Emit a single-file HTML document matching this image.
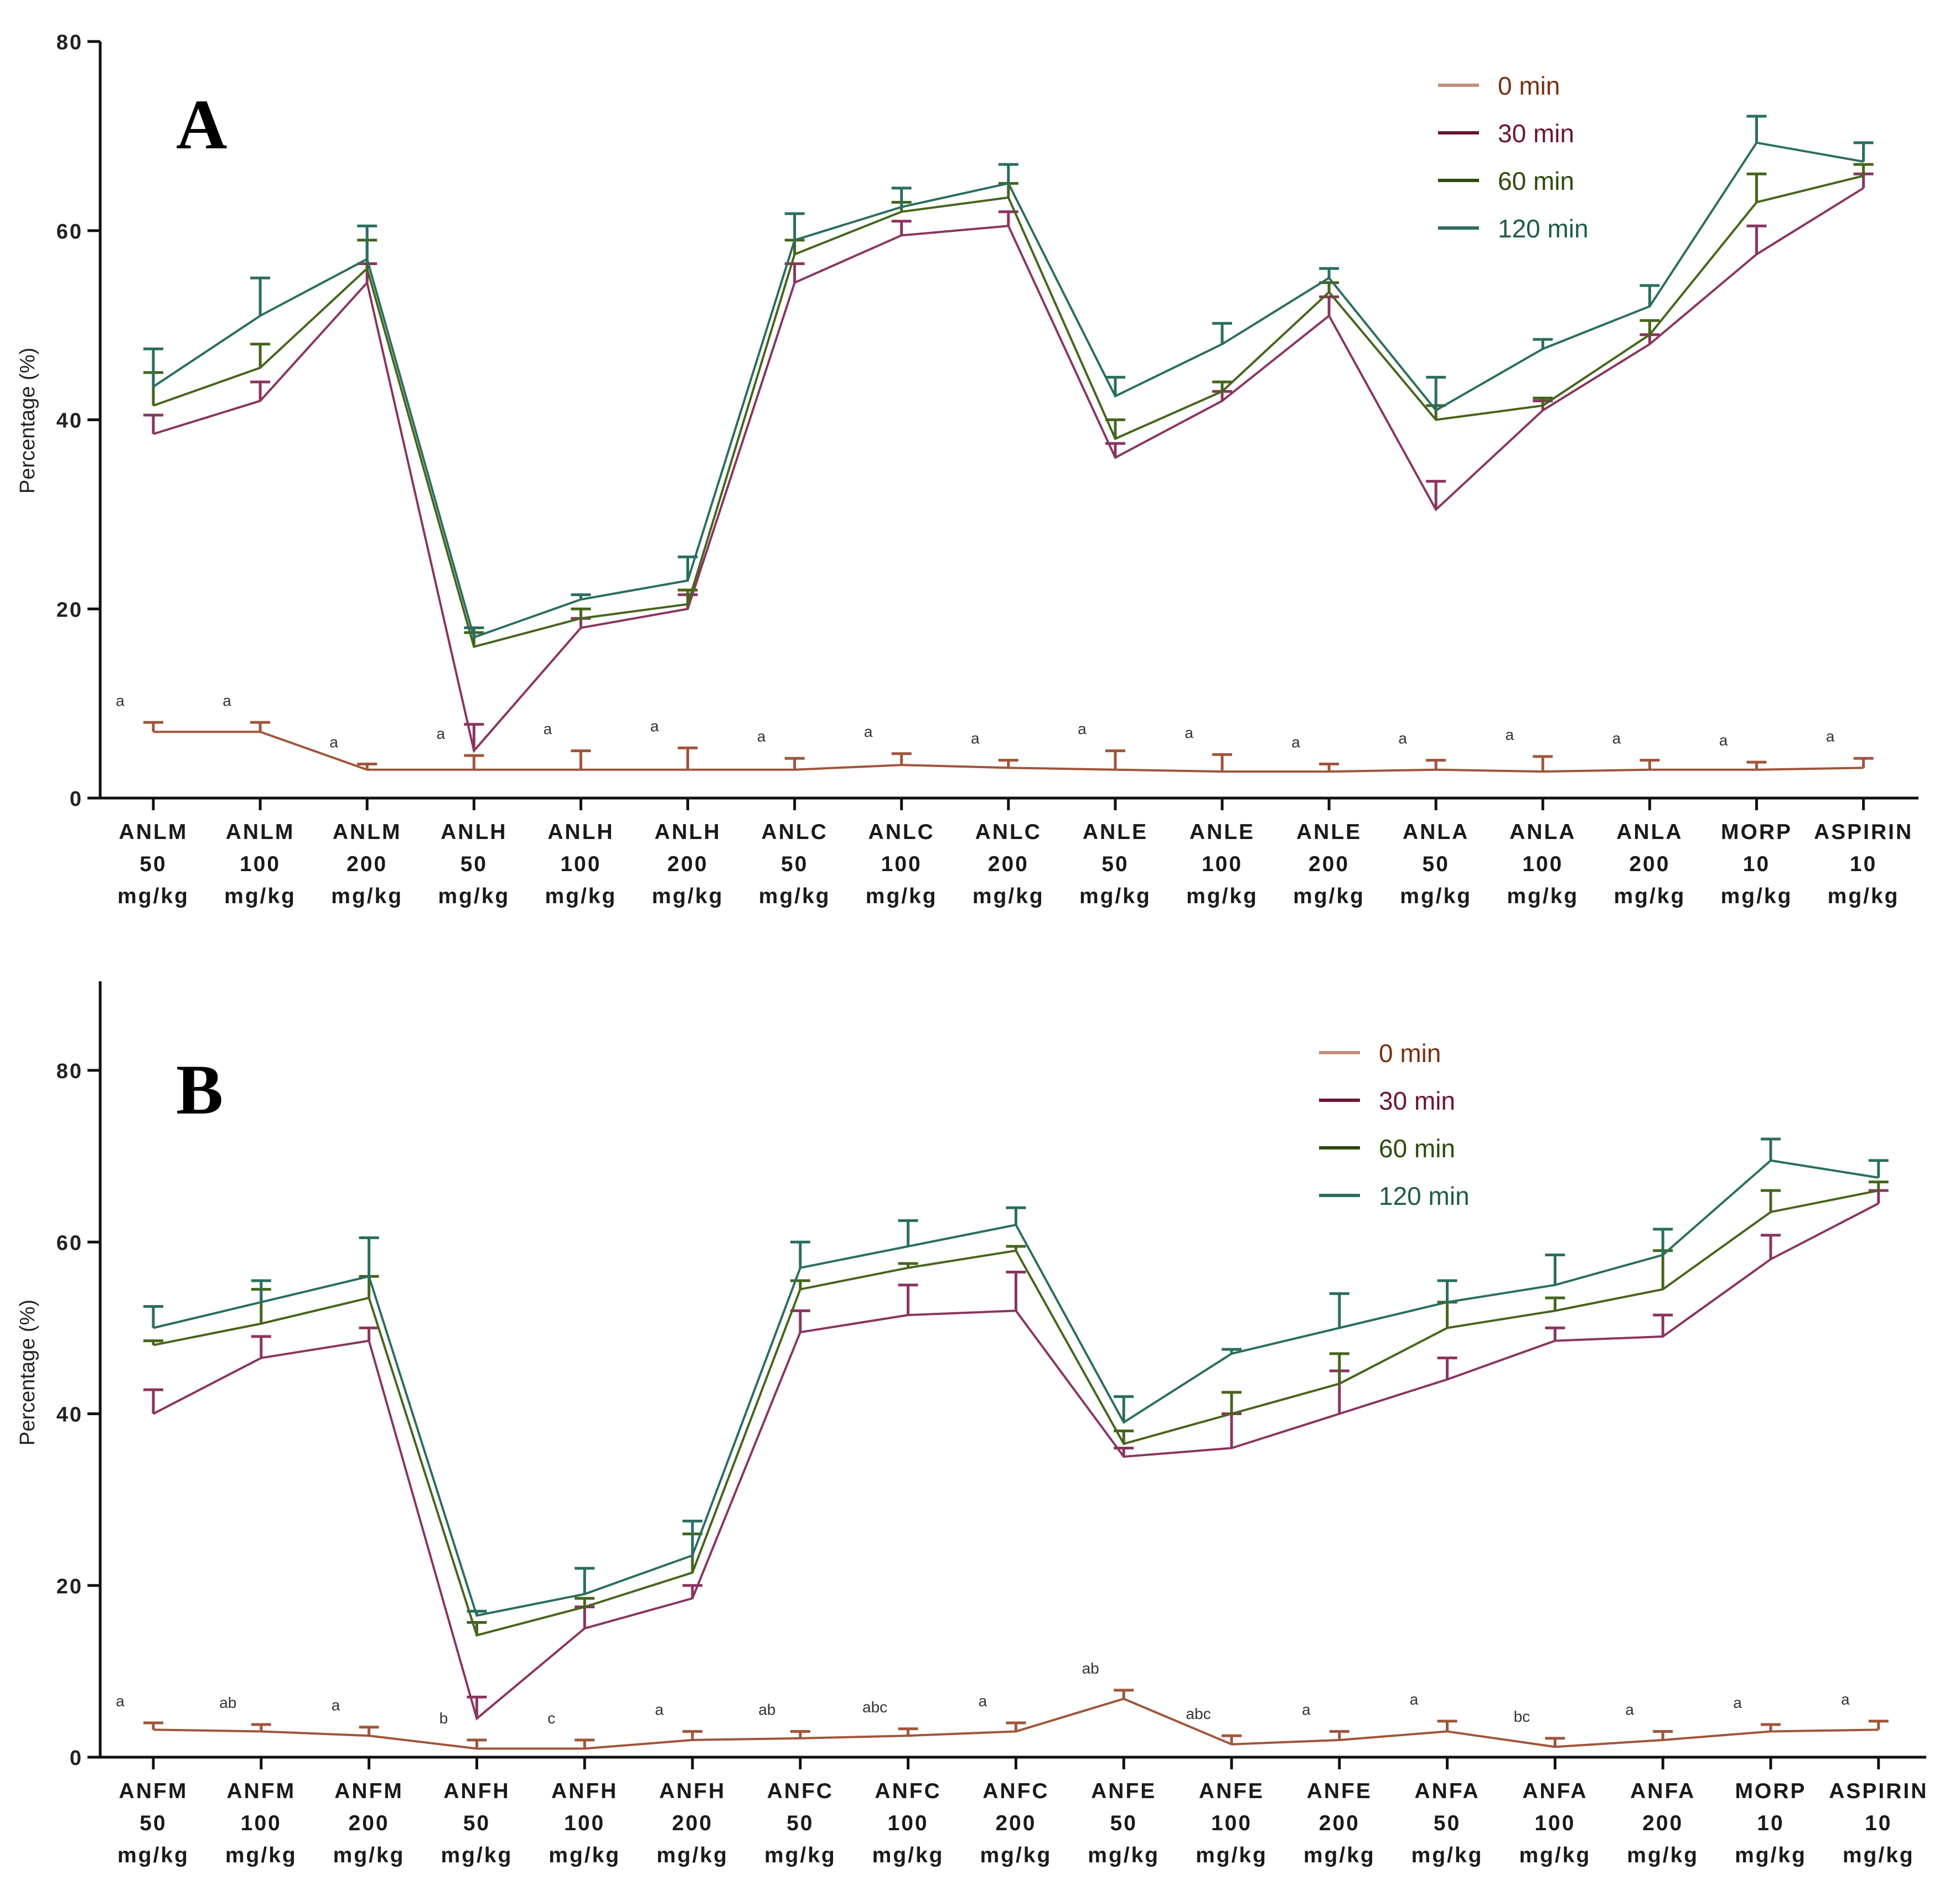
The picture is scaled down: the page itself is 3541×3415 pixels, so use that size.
<!DOCTYPE html>
<html><head><meta charset="utf-8"><style>
body{margin:0;background:#fff;width:3541px;height:3415px;overflow:hidden}
svg{display:block}
</style></head><body>
<svg id="chart" width="3541" height="3415" xmlns="http://www.w3.org/2000/svg" font-family="Liberation Sans, sans-serif"></svg>
<script>
const catsA=["ANLM|50|mg/kg","ANLM|100|mg/kg","ANLM|200|mg/kg","ANLH|50|mg/kg","ANLH|100|mg/kg","ANLH|200|mg/kg","ANLC|50|mg/kg","ANLC|100|mg/kg","ANLC|200|mg/kg","ANLE|50|mg/kg","ANLE|100|mg/kg","ANLE|200|mg/kg","ANLA|50|mg/kg","ANLA|100|mg/kg","ANLA|200|mg/kg","MORP|10|mg/kg","ASPIRIN|10|mg/kg"];
const catsB=["ANFM|50|mg/kg","ANFM|100|mg/kg","ANFM|200|mg/kg","ANFH|50|mg/kg","ANFH|100|mg/kg","ANFH|200|mg/kg","ANFC|50|mg/kg","ANFC|100|mg/kg","ANFC|200|mg/kg","ANFE|50|mg/kg","ANFE|100|mg/kg","ANFE|200|mg/kg","ANFA|50|mg/kg","ANFA|100|mg/kg","ANFA|200|mg/kg","MORP|10|mg/kg","ASPIRIN|10|mg/kg"];
const seriesNames=["0 min","30 min","60 min","120 min"];
const a0=[7,7,3,3,3,3,3,3.5,3.2,3,2.8,2.8,3,2.8,3,3,3.2];
const a30=[38.5,42,54.5,5,18,20,54.5,59.5,60.5,36,42,51,30.5,41,48,57.5,64.5];
const a60=[41.5,45.5,56,16,19,20.5,57.5,62,63.5,38,43,53.5,40,41.5,49,63,65.8];
const a120=[43.5,51,57,17,21,23,59,62.5,65,42.5,48,55,41,47.5,52,69.3,67.3];
const ea0=[1,1,0.6,1.5,2,2.3,1.2,1.2,0.8,2,1.8,0.8,1,1.6,1,0.8,1];
const ea30=[2,2,2,2.8,1,1.5,2,1.5,1.5,1.5,1,2,3,1,1,3,1.5];
const ea60=[3.5,2.5,3,1.5,1,1.5,1.5,1,1.5,2,1,1,1.5,0.8,1.5,3,1.2];
const ea120=[4,4,3.5,1,0.5,2.5,2.8,2,2,2,2.2,1,3.5,1,2.2,2.8,2];
const b0=[3.2,3,2.5,1,1,2,2.2,2.5,3,6.8,1.5,2,3,1.2,2,3,3.2];
const b30=[40,46.5,48.5,4.5,15,18.5,49.5,51.5,52,35,36,40,44,48.5,49,58,64.5];
const b60=[48,50.5,53.5,14.2,17.5,21.5,54.5,57,59,36.5,40,43.5,50,52,54.5,63.5,66];
const b120=[50,53,56,16.5,19,23.5,57,59.5,62,39,47,50,53,55,58.5,69.5,67.5];
const eb0=[0.8,0.8,1,1,1,1,0.8,0.8,1,1,1,1,1.2,1,1,0.8,1];
const eb30=[2.8,2.5,1.5,2.5,2.5,1.5,2.5,3.5,4.5,1,4,5,2.5,1.5,2.5,2.8,1.5];
const eb60=[0.5,4,2.5,1.5,1,4.5,1,0.5,0.5,1.5,2.5,3.5,3,1.5,4.5,2.5,1];
const eb120=[2.5,2.5,4.5,0.5,3,4,3,3,2,3,0.5,4,2.5,3.5,3,2.5,2];
const letA0=["a","a","a","a","a","a","a","a","a","a","a","a","a","a","a","a","a"];
const letB0=["a","ab","a","b","c","a","ab","abc","a","ab","abc","a","a","bc","a","a","a"];
const yTicksA=[0,20,40,60,80];
const yTicksB=[0,20,40,60,80];
const lineColors=["#a0553a","#8a3560","#46651c","#2a6e60"];
const legLine=["#c0907a","#6a1535","#2e4a0a","#2a6e60"];
const legText=["#7a3010","#6a1535","#2e4a0a","#1f5a4a"];
const NS="http://www.w3.org/2000/svg";
const svg=document.getElementById('chart');
function el(t,at,p){const e=document.createElementNS(NS,t);for(const k in at)e.setAttribute(k,at[k]);(p||svg).appendChild(e);return e;}
function panel(cfg){
 const g=el('g',{});
 
 
 const y=v=>cfg.y0-(v/cfg.vmax)*(cfg.y0-cfg.yTop);
 const x=i=>cfg.x0+i*cfg.dx;
 const ax=el('path',{d:`M181 ${cfg.axTop} V${cfg.y0} H${cfg.axEnd}`,stroke:'#111',fill:'none','stroke-width':5},g);
 
 
 cfg.ticks.forEach(t=>{
  el('line',{x1:158,x2:181,y1:y(t),y2:y(t),stroke:'#111','stroke-width':5},g);
  const tx=el('text',{x:150,y:y(t)+14,'text-anchor':'end','font-size':38,'font-weight':'bold',fill:'#222','letter-spacing':3},g);
  tx.textContent=t;
  
  
 });
 cfg.cats.forEach((c,i)=>{
  el('line',{x1:x(i),x2:x(i),y1:cfg.y0,y2:cfg.y0+22,stroke:'#111','stroke-width':5},g);
  const parts=c.split('|');
  parts.forEach((p,k)=>{
   const t=el('text',{x:x(i),y:cfg.y0+74+k*58,'text-anchor':'middle','font-size':39,'font-weight':'bold',fill:'#1a1a1a','letter-spacing':3},g);
   t.textContent=p;
   
   
  });
 });
 const yt=el('text',{transform:`translate(62 ${cfg.titleY}) rotate(-90)`,'text-anchor':'middle','font-size':38,fill:'#222'},g);
 yt.textContent='Percentage (%)';
 
 
 const pl=el('text',{x:cfg.lx,y:cfg.ly,'font-size':128,'font-weight':'bold','font-family':'Liberation Serif, serif',fill:'#000'},g);
 pl.textContent=cfg.letter;
 
 
 cfg.series.forEach((s,si)=>{
  const d=s.map((v,i)=>(i?'L':'M')+x(i)+' '+y(v)).join(' ');
  const p=el('path',{d:d,stroke:lineColors[si],fill:'none','stroke-width':4},g);
  
  
  s.forEach((v,i)=>{
   const top=y(v+cfg.errs[si][i]);
   const eb=el('path',{d:`M${x(i)} ${y(v)} V${top} M${x(i)-18} ${top} H${x(i)+18}`,stroke:lineColors[si],'stroke-width':5,fill:'none'},g);
   
   
  });
 });
 cfg.let0.forEach((l,i)=>{
  const t=el('text',{x:x(i)-60,y:y(cfg.series[0][i]+cfg.errs[0][i])-30,'font-size':28,fill:'#333','text-anchor':'middle'},g);
  t.textContent=l;
  
  
 });
 seriesNames.forEach((n,k)=>{
  const ly=cfg.legY+k*cfg.legDy;
  const lg=el('g',{},g);
  
  
  el('line',{x1:cfg.legX,x2:cfg.legX+74,y1:ly,y2:ly,stroke:legLine[k],'stroke-width':6},lg);
  const t=el('text',{x:cfg.legX+108,y:ly+17,'font-size':46,fill:legText[k]},lg);
  t.textContent=n;
 });
}
panel({name:'panel-a',letter:'A',lx:318,ly:268,cats:catsA,x0:277,dx:193.1,y0:1442,yTop:75,axTop:75,vmax:80,axEnd:3466,ticks:yTicksA,titleY:760,
 series:[a0,a30,a60,a120],errs:[ea0,ea30,ea60,ea120],let0:letA0,legX:2598,legY:154,legDy:86});
panel({name:'panel-b',letter:'B',lx:318,ly:2012,cats:catsB,x0:277,dx:194.8,y0:3175,yTop:1934,axTop:1773,vmax:80,axEnd:3480,ticks:yTicksB,titleY:2480,
 series:[b0,b30,b60,b120],errs:[eb0,eb30,eb60,eb120],let0:letB0,legX:2383,legY:1902,legDy:86});
</script>
</body></html>
